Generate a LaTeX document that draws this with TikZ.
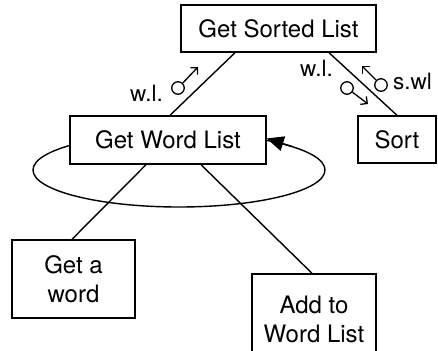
\documentclass[tikz,border=0pt]{standalone}
\usepackage{fontspec}
\setmainfont{TeX Gyre Heros}
\usetikzlibrary{arrows.meta}
\tikzset{
  box/.style={draw, fill=white, line width=1.4pt, inner sep=0pt, align=center,
    font=\fontsize{24}{29}\selectfont},
  lbl/.style={inner sep=0pt, font=\fontsize{22.5}{26}\selectfont},
  couple/.style={draw, circle, line width=1.3pt, minimum size=12.5pt, inner sep=0pt},
  flow/.style={line width=1.3pt, -{Straight Barb[length=5pt,width=10pt,line width=1.3pt]}},
  conn/.style={line width=1.4pt}
}
\begin{document}
\begin{tikzpicture}[x=1pt,y=-1pt]
\useasboundingbox (0,0) rectangle (438,350);
\clip (0,0) rectangle (438,350);
% loop (its top is hidden by the Get Word List box)
\coordinate (lpc) at (179,170);
\draw[line width=1.4pt] (lpc) ellipse [x radius=146pt, y radius=37pt];
% boxes
\node[box, minimum width=195pt, minimum height=47pt] (gsl) at (278.5,28.5) {Get Sorted List};
\node[box, minimum width=196pt, minimum height=48pt] (gwl) at (168,140) {Get Word List};
\node[box, minimum width=78pt, minimum height=47pt] (sort) at (397,139.5) {Sort};
\node[box, minimum width=123pt, minimum height=78pt] (gaw) at (73.5,279) {Get a\\word};
\node[box, minimum width=124pt, minimum height=90pt] (atw) at (314,319) {Add to\\Word List};
% arrowhead of the loop
\coordinate (lpa) at (292,146.5);
\draw[line width=1.4pt, -{Triangle[length=17pt,width=15pt]}] (lpa) -- ([yshift=1.5pt]gwl.east);
% connectors
\draw[conn] ([xshift=-43.5pt]gsl.south) -- ([xshift=2pt]gwl.north);
\draw[conn] ([xshift=50.5pt]gsl.south) -- (sort.north);
\draw[conn] ([xshift=-22pt]gwl.south) -- ([xshift=-1.5pt]gaw.north);
\draw[conn] ([xshift=33pt]gwl.south) -- ([xshift=-2pt]atw.north);
% labels and data couples
\node[lbl, anchor=base west] (wl1) at (130,102) {w.l.};
\node[couple] (c1) at (178,88) {};
\coordinate (t1) at (198,67);
\draw[flow] (c1) -- (t1);
\node[lbl, anchor=base west] (wl2) at (300,77) {w.l.};
\node[couple] (c2) at (347,88) {};
\coordinate (t2) at (368,104);
\draw[flow] (c2) -- (t2);
\node[couple] (c3) at (381,85) {};
\coordinate (t3) at (362,66);
\draw[flow] (c3) -- (t3);
\node[lbl, anchor=base west] (swl) at (393,89) {s.wl};
\end{tikzpicture}
\end{document}
